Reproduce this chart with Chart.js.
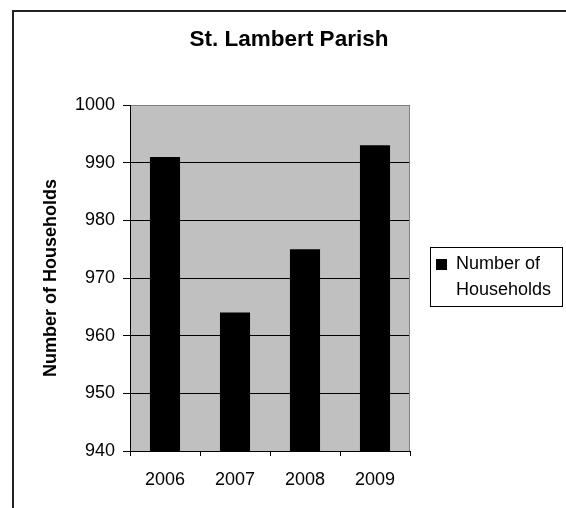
<!DOCTYPE html>
<html><head><meta charset="utf-8">
<script src="https://cdn.jsdelivr.net/npm/chart.js@4/dist/chart.umd.min.js"></script>
<style>html,body{margin:0;padding:0;background:#fff}#wrap{width:566px;height:508px}</style>
</head><body><div id="wrap"><canvas id="c" width="566" height="508"></canvas></div>
<script>
// chart data
const years = ['2006', '2007', '2008', '2009'];
const households = [991, 964, 975, 993];
const yTicks = [940, 950, 960, 970, 980, 990, 1000];
const chartTitle = 'St. Lambert Parish';
const seriesName = 'Number of Households';
const legendLines = ['Number of', 'Households'];

const FONT = '"Liberation Sans", Arial, sans-serif';

// excel-ish frame, grey plot area, title and boxed legend
const decor = {
  id: 'decor',
  beforeDraw(chart){
    const {ctx, chartArea: a} = chart;
    ctx.save();
    ctx.fillStyle = '#fff'; ctx.fillRect(0, 0, chart.width, chart.height);
    ctx.strokeStyle = '#222'; ctx.lineWidth = 2;
    ctx.strokeRect(13, 11, 600, 600);
    ctx.fillStyle = '#c0c0c0'; ctx.fillRect(a.left, a.top, a.right - a.left, a.bottom - a.top);
    ctx.restore();
  },
  afterDraw(chart){
    const {ctx, chartArea: a} = chart;
    ctx.save();
    ctx.strokeStyle = '#808080'; ctx.lineWidth = 1;
    ctx.beginPath();
    ctx.moveTo(a.left + 1, a.top + 0.5); ctx.lineTo(a.right - 0.5, a.top + 0.5); ctx.lineTo(a.right - 0.5, a.bottom);
    ctx.stroke();
    // title
    ctx.fillStyle = '#000'; ctx.textAlign = 'center'; ctx.textBaseline = 'middle';
    ctx.font = 'bold 22.5px ' + FONT;
    ctx.fillText(chartTitle, 289, 40);
    // legend
    ctx.strokeStyle = '#000';
    ctx.strokeRect(430.5, 247.5, 132, 59);
    ctx.fillRect(436, 259, 11, 11);
    ctx.textAlign = 'left';
    ctx.font = '18px ' + FONT;
    ctx.fillText(legendLines[0], 456, 264);
    ctx.fillText(legendLines[1], 456, 290);
    ctx.restore();
  }
};

new Chart(document.getElementById('c'), {
  type: 'bar',
  data: { labels: years, datasets: [{ label: seriesName, data: households, backgroundColor: '#000', barPercentage: 0.43, categoryPercentage: 1 }] },
  options: {
    responsive: false, animation: false, devicePixelRatio: 1,
    layout: { padding: { top: 105, right: 156, bottom: 0, left: 0 } },
    plugins: { legend: { display: false }, tooltip: { enabled: false }, title: { display: false } },
    scales: {
      x: {
        offset: true,
        grid: { drawOnChartArea: false, offset: true, tickLength: 5, color: '#000' },
        border: { color: '#000' },
        ticks: { color: '#000', font: { family: FONT, size: 18 }, padding: 13, maxRotation: 0 },
        afterFit: s => { s.height = 57; }
      },
      y: {
        min: 940, max: 1000,
        afterBuildTicks: s => { s.ticks = yTicks.map(v => ({ value: v })); },
        grid: { color: '#000', tickLength: 7 },
        border: { color: '#000' },
        ticks: { color: '#000', font: { family: FONT, size: 18 }, padding: 8, callback: v => String(v) },
        title: { display: true, text: seriesName, color: '#000', font: { family: FONT, size: 18, weight: 'bold' }, padding: { top: 40 } },
        afterFit: s => { s.width = 130; }
      }
    }
  },
  plugins: [decor]
});
</script>
</body></html>
